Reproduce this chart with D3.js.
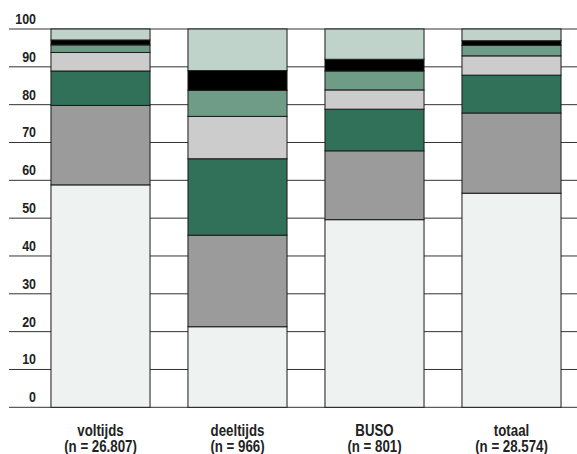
<!DOCTYPE html>
<html>
<head>
<meta charset="utf-8">
<script src="https://cdn.jsdelivr.net/npm/d3@7"></script>
<style>
  html, body { margin: 0; padding: 0; background: #fff; }
  svg { display: block; }
  text { font-family: "Liberation Sans", Arial, sans-serif; font-weight: bold; fill: #222; }
</style>
</head>
<body>
<svg id="chart" width="577" height="454"></svg>
<script>
const categories = ["voltijds", "deeltijds", "BUSO", "totaal"];
const sublabels = ["(n = 26.807)", "(n = 966)", "(n = 801)", "(n = 28.574)"];
const seriesNames = ["s1", "s2", "s3", "s4", "s5", "s6", "s7"];
const s1 = [58.8, 21.3, 49.6, 56.6];
const s2 = [21.0, 24.2, 18.2, 21.2];
const s3 = [9.1, 20.2, 11.0, 10.0];
const s4 = [4.9, 11.2, 5.1, 5.1];
const s5 = [2.0, 6.9, 5.0, 2.8];
const s6 = [1.3, 5.2, 3.1, 1.2];
const s7 = [2.9, 11.0, 8.0, 3.1];
const yTicks = [0, 10, 20, 30, 40, 50, 60, 70, 80, 90, 100];
const colors = ["#eef2f1", "#9b9b9b", "#317159", "#cccccc", "#6f9c87", "#000000", "#bfd3ca"];

const seriesValues = [s1, s2, s3, s4, s5, s6, s7];
const rows = categories.map((c, i) => {
  const r = { cat: c };
  seriesNames.forEach((s, k) => r[s] = seriesValues[k][i]);
  return r;
});

const SX = 0.83;
const svg = d3.select("#chart");
const y = d3.scaleLinear().domain([0, 100]).range([407.3, 29]);
const x = d3.scaleBand().domain(categories).range([32, 580]).paddingInner(0.277).paddingOuter(0.1385);

// gridlines
svg.append("g").selectAll("line").data(yTicks).join("line")
  .attr("x1", 9).attr("x2", 577)
  .attr("y1", d => y(d)).attr("y2", d => y(d))
  .attr("stroke", "#333").attr("stroke-width", 1);

// y labels
svg.append("g").selectAll("text").data(yTicks).join("text")
  .attr("transform", d => `translate(36,${y(d) - 5}) scale(${SX},1)`)
  .attr("text-anchor", "end")
  .attr("font-size", 15)
  .text(d => d);

// stacked bars
const stack = d3.stack().keys(seriesNames);
const stacked = stack(rows);
const layers = svg.append("g").selectAll("g").data(stacked).join("g")
  .attr("fill", (d, i) => colors[i]);
layers.selectAll("rect").data(d => d).join("rect")
  .attr("x", d => x(d.data.cat))
  .attr("width", x.bandwidth())
  .attr("y", d => y(d[1]))
  .attr("height", d => y(d[0]) - y(d[1]))
  .attr("stroke", "#1a1a1a")
  .attr("stroke-width", 1);

// category labels
const lab = svg.append("g").selectAll("text").data(categories).join("text")
  .attr("text-anchor", "middle")
  .attr("font-size", 16)
  .attr("transform", d => `translate(${x(d) + x.bandwidth() / 2},0) scale(${SX},1)`);
lab.append("tspan").attr("x", 0).attr("y", 436).text(d => d);
lab.append("tspan").attr("x", 0).attr("y", 451.7).text((d, i) => sublabels[i]);
</script>
</body>
</html>
